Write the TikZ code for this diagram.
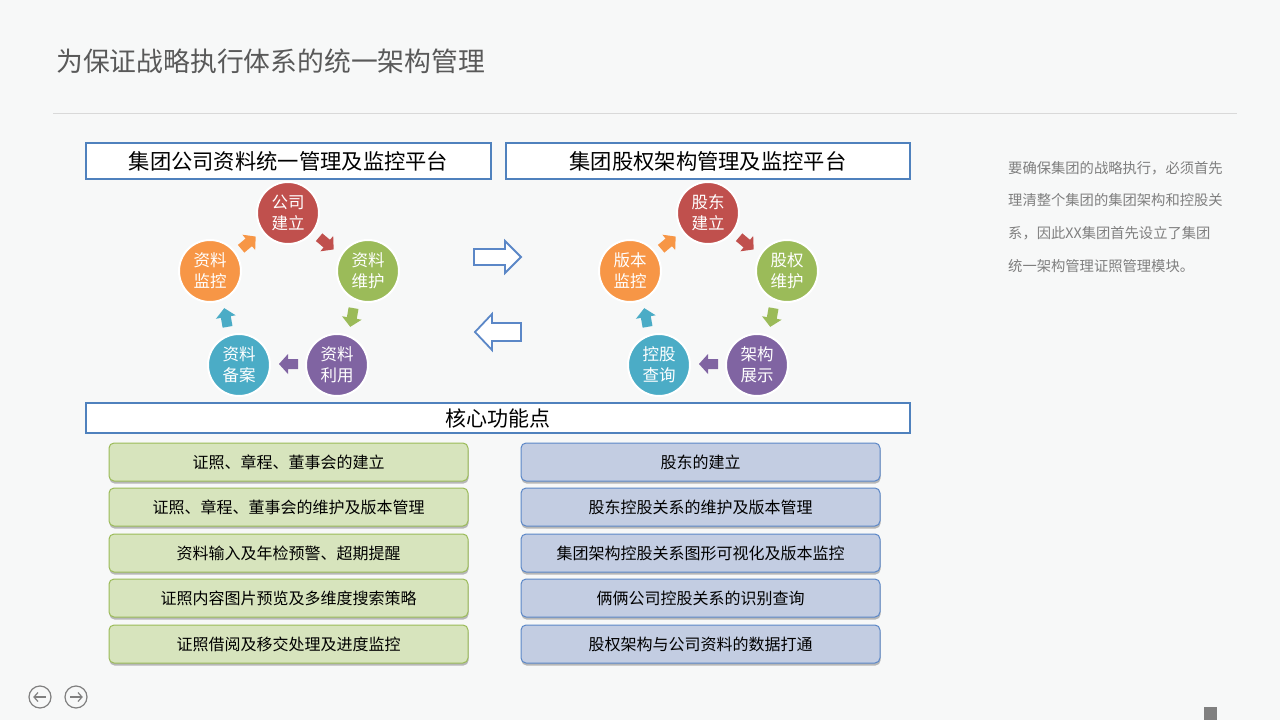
\documentclass[tikz,border=0pt]{standalone}
\usepackage{fontspec}
\setmainfont{Noto Sans CJK SC}
\newfontfamily\cjk{Noto Sans CJK SC}
\usetikzlibrary{shadows}
\definecolor{bg}{HTML}{F7F8F8}
\definecolor{ttl}{HTML}{595959}
\definecolor{cred}{HTML}{C0504D}
\definecolor{cgreen}{HTML}{9BBB59}
\definecolor{cpurple}{HTML}{8064A2}
\definecolor{cblue}{HTML}{4BACC6}
\definecolor{corange}{HTML}{F79646}
\definecolor{bline}{HTML}{4F81BD}
\definecolor{gfill}{HTML}{D7E4BD}
\definecolor{bfill}{HTML}{C3CDE2}
\definecolor{bborder}{HTML}{5B87C7}
\definecolor{sidetext}{HTML}{7F7F7F}
\tikzset{
  platbox/.style={draw=bline, line width=1.5pt, fill=white, minimum height=36pt, inner sep=0pt, font=\fontsize{21.3}{25}\selectfont},
  cyc/.style={circle, draw=white, line width=2pt, minimum size=62pt, inner sep=0pt, text=white, align=center, font=\fontsize{16.5}{21}\selectfont},
  featg/.style={draw=cgreen, line width=1pt, fill=gfill, rounded corners=5pt, minimum width=359pt, minimum height=38pt, inner sep=0pt, font=\fontsize{16}{19}\selectfont, drop shadow={shadow xshift=0.5pt, shadow yshift=-2.5pt, fill=black!45, opacity=0.6}},
  featb/.style={featg, draw=bborder, fill=bfill},
  bigarrow/.style={draw=bborder, line width=1.8pt, fill=white, line join=miter},
  navc/.style={circle, draw=gray, line width=1.2pt, minimum size=22pt, inner sep=0pt}
}
\newcommand{\cycarrow}[4]{%
  \fill[#4, shift={(#1,#2)}, rotate=#3] (-9,-5)--(1,-5)--(1,-10)--(10,0)--(1,10)--(1,5)--(-9,5)--cycle;}
\begin{document}
\begin{tikzpicture}[x=1pt, y=-1pt]
\useasboundingbox (0,0) rectangle (1280,720);
\fill[bg] (0,0) rectangle (1280,720);
% title
\node[anchor=west, text=ttl, font=\fontsize{26.8}{30}\selectfont, inner sep=0pt] (title) at (56,61) {为保证战略执行体系的统一架构管理};
\draw[black!15, line width=1pt] (53,113) coordinate (hl1) -- (1237,113) coordinate (hl2);
% platform headers
\node[platbox, minimum width=405pt] (p1) at (288.5,161) {集团公司资料统一管理及监控平台};
\node[platbox, minimum width=404pt] (p2) at (708,161) {集团股权架构管理及监控平台};
\node[platbox, minimum width=824pt, minimum height=30pt, text depth=-3pt, font=\fontsize{21}{25}\selectfont] (core) at (498,418) {核心功能点};
% left cycle
\node[cyc, fill=cred] (a1) at (288,213) {公司\\建立};
\node[cyc, fill=cgreen] (a2) at (368,271) {资料\\维护};
\node[cyc, fill=cpurple] (a3) at (337,365) {资料\\利用};
\node[cyc, fill=cblue] (a4) at (239,365) {资料\\备案};
\node[cyc, fill=corange] (a5) at (210,271) {资料\\监控};
\cycarrow{326}{243}{-40}{cred}
\cycarrow{352}{317}{-100}{cgreen}
\cycarrow{289}{364}{180}{cpurple}
\cycarrow{226}{318}{100}{cblue}
\cycarrow{248}{243}{40}{corange}
% right cycle
\node[cyc, fill=cred] (b1) at (708,213) {股东\\建立};
\node[cyc, fill=cgreen] (b2) at (787,271) {股权\\维护};
\node[cyc, fill=cpurple] (b3) at (757,365) {架构\\展示};
\node[cyc, fill=cblue] (b4) at (659,365) {控股\\查询};
\node[cyc, fill=corange] (b5) at (630,271) {版本\\监控};
\cycarrow{746}{243}{-40}{cred}
\cycarrow{772}{317}{-100}{cgreen}
\cycarrow{709}{364}{180}{cpurple}
\cycarrow{646}{318}{100}{cblue}
\cycarrow{668}{243}{40}{corange}
% middle block arrows
\draw[bigarrow] (474,249)--(505,249)--(505,241)--(521,257)--(505,273)--(505,265)--(474,265)--cycle;
\draw[bigarrow] (521,323)--(492,323)--(492,314)--(475,332)--(492,350)--(492,341)--(521,341)--cycle;
% feature boxes
\node[featg] (g1) at (288.5,462) {证照、章程、董事会的建立};
\node[featg] (g2) at (288.5,507) {证照、章程、董事会的维护及版本管理};
\node[featg] (g3) at (288.5,553) {资料输入及年检预警、超期提醒};
\node[featg] (g4) at (288.5,598) {证照内容图片预览及多维度搜索策略};
\node[featg] (g5) at (288.5,644) {证照借阅及移交处理及进度监控};
\node[featb] (h1) at (700.5,462) {股东的建立};
\node[featb] (h2) at (700.5,507) {股东控股关系的维护及版本管理};
\node[featb] (h3) at (700.5,553) {集团架构控股关系图形可视化及版本监控};
\node[featb] (h4) at (700.5,598) {俩俩公司控股关系的识别查询};
\node[featb] (h5) at (700.5,644) {股权架构与公司资料的数据打通};
% side text
\node[anchor=north west, text=sidetext, align=left, inner sep=0pt, font=\fontsize{14.3}{32.7}\selectfont] (side) at (1008,161) {要确保集团的战略执行，必须首先\\理清整个集团的集团架构和控股关\\系，因此XX集团首先设立了集团\\统一架构管理证照管理模块。};
% navigation
\node[navc] (nav1) at (40,697) {};
\node[navc] (nav2) at (76,697) {};
\draw[gray, line width=1.2pt] (nav1.center) ++(-6,0) -- ++(12,0);
\draw[gray, line width=1.2pt] (nav1.center) ++(-2,-4.5) -- ++(-4,4.5) -- ++(4,4.5);
\draw[gray, line width=1.2pt] (nav2.center) ++(-6,0) -- ++(12,0);
\draw[gray, line width=1.2pt] (nav2.center) ++(2,-4.5) -- ++(4,4.5) -- ++(-4,4.5);
\fill[gray] (1204,707) rectangle (1217,720);
\end{tikzpicture}
\end{document}
